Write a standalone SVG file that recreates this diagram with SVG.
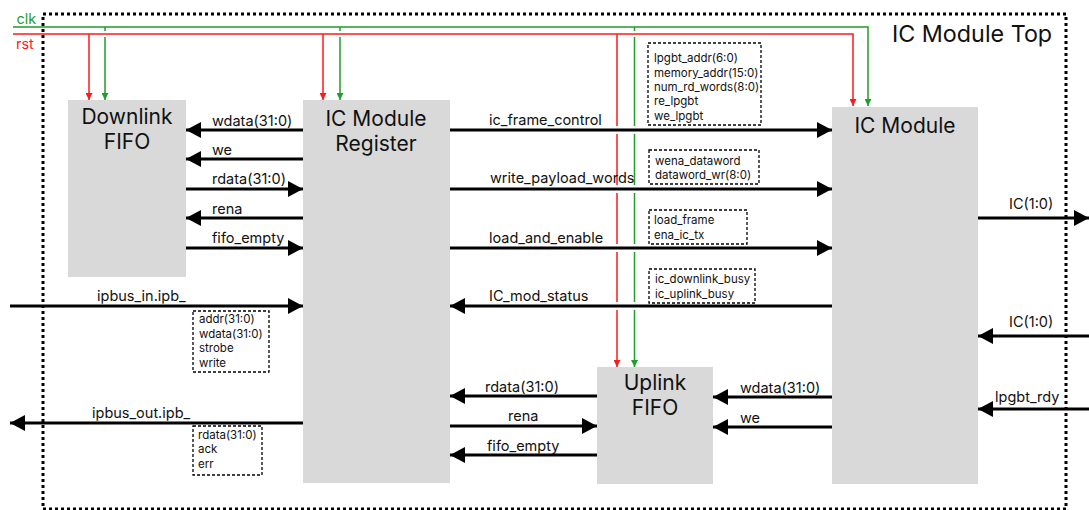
<svg xmlns="http://www.w3.org/2000/svg" width="1089" height="510" viewBox="0 0 1089 510">
<style>
.node{fill:#d9d9d9}
.title{font-family:Inter,"Liberation Sans",sans-serif;font-size:21px;fill:#111;text-anchor:middle}
.lbl{font-family:Inter,"Liberation Sans",sans-serif;font-size:14.5px;fill:#111}
.sm{font-family:Inter,"Liberation Sans",sans-serif;font-size:11.5px;fill:#111}
.sig{stroke:#000;stroke-width:3;fill:none;marker-end:url(#ah)}
.box{fill:none;stroke:#000;stroke-width:1.3;stroke-dasharray:3 2}
.clk{stroke:#1f9e2b;stroke-width:1.5;fill:none}
.rst{stroke:#ff1a1a;stroke-width:1.5;fill:none}
</style>
<defs>
<marker id="ah" markerUnits="userSpaceOnUse" viewBox="0 0 15 16" refX="15" refY="8" markerWidth="15" markerHeight="16" orient="auto"><path d="M0,0 L15,8 L0,16 Z" fill="#000"/></marker>
<marker id="ag" markerUnits="userSpaceOnUse" viewBox="0 0 7 7" refX="7" refY="3.5" markerWidth="7" markerHeight="7" orient="auto"><path d="M0,0 L7,3.5 L0,7 Z" fill="#1f9e2b"/></marker>
<marker id="ar" markerUnits="userSpaceOnUse" viewBox="0 0 7 7" refX="7" refY="3.5" markerWidth="7" markerHeight="7" orient="auto"><path d="M0,0 L7,3.5 L0,7 Z" fill="#ff1a1a"/></marker>
</defs>
<rect width="1089" height="510" fill="#fff"/>
<g id="top-frame">
<rect x="43" y="14" width="1023" height="495" fill="none" stroke="#000" stroke-width="3" stroke-dasharray="3 3"/>
<text x="892" y="42" font-family="Inter,'Liberation Sans',sans-serif" font-size="23.3" fill="#111">IC Module Top</text>
</g>
<g id="clk-rst-labels">
<text x="16.5" y="24" font-family="Inter,'Liberation Sans',sans-serif" font-size="14.5" fill="#1f9e2b">clk</text>
<text x="16" y="49" font-family="Inter,'Liberation Sans',sans-serif" font-size="14.5" fill="#ff1a1a">rst</text>
</g>
<g id="downlink-fifo">
<rect class="node" x="68" y="100" width="118" height="177"/>
<text class="title" x="127" y="124">Downlink</text>
<text class="title" x="127" y="149">FIFO</text>
</g>
<g id="ic-module-register">
<rect class="node" x="303" y="100" width="147" height="383"/>
<text class="title" x="376" y="126">IC Module</text>
<text class="title" x="376" y="151">Register</text>
</g>
<g id="ic-module">
<rect class="node" x="832" y="107" width="146" height="377"/>
<text class="title" x="905" y="133">IC Module</text>
</g>
<g id="uplink-fifo">
<rect class="node" x="597" y="367" width="116" height="117"/>
<text class="title" x="655" y="390">Uplink</text>
<text class="title" x="655" y="415">FIFO</text>
</g>
<g id="connectors">
<path class="clk" d="M13,27 H868 V106" marker-end="url(#ag)"/>
<path class="rst" d="M13,34 H853 V106" marker-end="url(#ar)"/>
<path class="rst" d="M89,34 V100" marker-end="url(#ar)"/>
<path class="clk" d="M105,27 V31 M105,37 V100" marker-end="url(#ag)"/>
<path class="rst" d="M323,34 V100" marker-end="url(#ar)"/>
<path class="clk" d="M340,27 V31 M340,37 V100" marker-end="url(#ag)"/>
<path class="rst" d="M617,34 V126 M617,134 V185 M617,193 V244 M617,252 V302 M617,310 V367" marker-end="url(#ar)"/>
<path class="clk" d="M634.5,27 V31 M634.5,37 V126 M634.5,134 V185 M634.5,193 V244 M634.5,252 V302 M634.5,310 V367" marker-end="url(#ag)"/>
<path class="sig" d="M303,130 H186"/>
<path class="sig" d="M303,159 H186"/>
<path class="sig" d="M186,189 H303"/>
<path class="sig" d="M303,218 H186"/>
<path class="sig" d="M186,248 H303"/>
<path class="sig" d="M10,306 H303"/>
<path class="sig" d="M303,423 H10"/>
<path class="sig" d="M450,130 H832"/>
<path class="sig" d="M450,189 H832"/>
<path class="sig" d="M450,248 H832"/>
<path class="sig" d="M832,306 H450"/>
<path class="sig" d="M597,396 H450"/>
<path class="sig" d="M450,426 H597"/>
<path class="sig" d="M597,455 H450"/>
<path class="sig" d="M832,397 H713"/>
<path class="sig" d="M832,427 H713"/>
<path class="sig" d="M978,218 H1089"/>
<path class="sig" d="M1089,336 H978"/>
<path class="sig" d="M1089,409 H978"/>
<text class="lbl" x="212" y="126">wdata(31:0)</text>
<text class="lbl" x="212" y="155">we</text>
<text class="lbl" x="212" y="184">rdata(31:0)</text>
<text class="lbl" x="212" y="214">rena</text>
<text class="lbl" x="212" y="243">fifo_empty</text>
<text class="lbl" x="97" y="301">ipbus_in.ipb_</text>
<text class="lbl" x="92" y="418">ipbus_out.ipb_</text>
<text class="lbl" x="489" y="125">ic_frame_control</text>
<text class="lbl" x="490" y="183">write_payload_words</text>
<text class="lbl" x="489" y="243">load_and_enable</text>
<text class="lbl" x="489" y="301">IC_mod_status</text>
<text class="lbl" x="485" y="392">rdata(31:0)</text>
<text class="lbl" x="508" y="421">rena</text>
<text class="lbl" x="487" y="451">fifo_empty</text>
<text class="lbl" x="740" y="393">wdata(31:0)</text>
<text class="lbl" x="740" y="423">we</text>
<text class="lbl" x="1009" y="209">IC(1:0)</text>
<text class="lbl" x="1009" y="327">IC(1:0)</text>
<text class="lbl" x="995" y="402">lpgbt_rdy</text>
<rect class="box" x="648" y="43" width="113" height="82"/>
<text class="sm" x="654" y="62">lpgbt_addr(6:0)</text>
<text class="sm" x="654" y="76.5">memory_addr(15:0)</text>
<text class="sm" x="654" y="90.5">num_rd_words(8:0)</text>
<text class="sm" x="654" y="105">re_lpgbt</text>
<text class="sm" x="654" y="119.5">we_lpgbt</text>
<rect class="box" x="649" y="150" width="110" height="34"/>
<text class="sm" x="655" y="164.5">wena_dataword</text>
<text class="sm" x="655" y="178.5">dataword_wr(8:0)</text>
<rect class="box" x="649" y="210" width="98" height="34"/>
<text class="sm" x="654" y="224">load_frame</text>
<text class="sm" x="654" y="239">ena_ic_tx</text>
<rect class="box" x="649" y="269" width="106" height="34"/>
<text class="sm" x="655" y="283">ic_downlink_busy</text>
<text class="sm" x="655" y="298">ic_uplink_busy</text>
<rect class="box" x="193" y="311" width="76" height="61"/>
<text class="sm" x="199" y="323">addr(31:0)</text>
<text class="sm" x="199" y="337.5">wdata(31:0)</text>
<text class="sm" x="199" y="351.5">strobe</text>
<text class="sm" x="199" y="366.5">write</text>
<rect class="box" x="193" y="426" width="69" height="49"/>
<text class="sm" x="198" y="439">rdata(31:0)</text>
<text class="sm" x="198" y="453">ack</text>
<text class="sm" x="198" y="468">err</text>
</g>
</svg>
